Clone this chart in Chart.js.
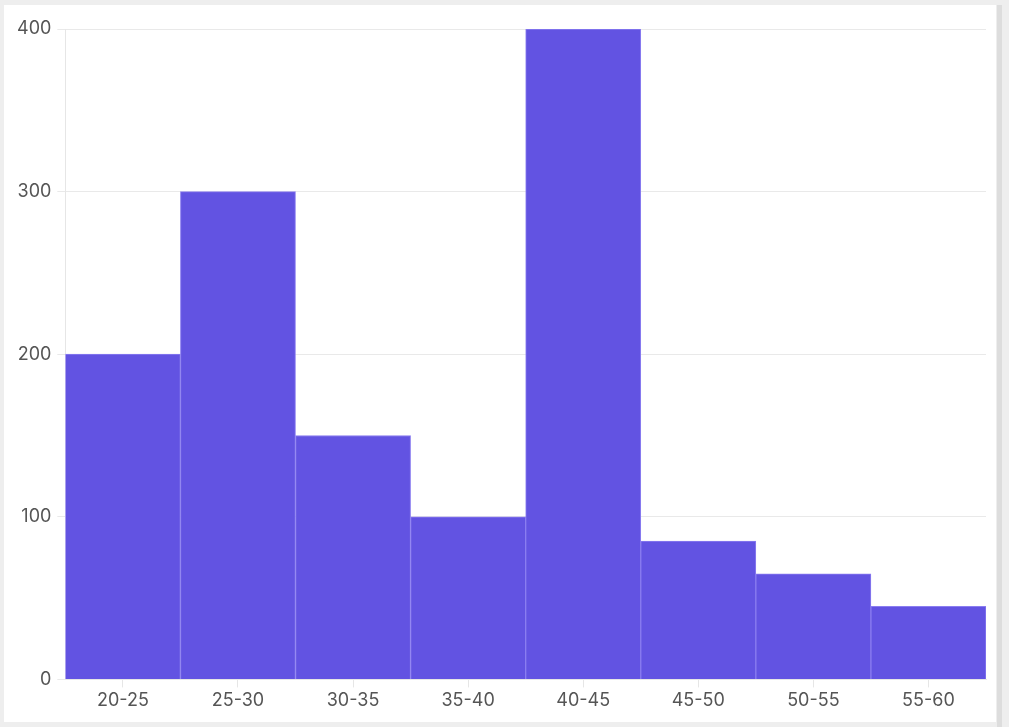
<!DOCTYPE html>
<html>
<head>
<meta charset="utf-8">
<script src="https://cdn.jsdelivr.net/npm/chart.js@4"></script>
<style>
  html, body { margin: 0; padding: 0; background: #eeeeee; width: 1009px; height: 727px; overflow: hidden; }
  #card { position: absolute; left: 4px; top: 5px; width: 992px; height: 717px; background: #fff; }
  #bar { position: absolute; left: 997px; top: 5px; width: 5px; height: 722px; background: #dddddd; }
</style>
</head>
<body>
<div id="card"><canvas id="histChart"></canvas></div>
<div id="bar"></div>
<script>
// Age bins and counts
const bins = ['20-25', '25-30', '30-35', '35-40', '40-45', '45-50', '50-55', '55-60'];
const counts = [200, 300, 150, 100, 400, 85, 65, 45];
const yTicks = [0, 100, 200, 300, 400];

const ctx = document.getElementById('histChart').getContext('2d');
new Chart(ctx, {
    type: 'bar',
    data: {
        labels: bins,
        datasets: [{
            data: counts,
            backgroundColor: '#6253e2',
            borderColor: '#8a7df0',
            borderWidth: 1,
            barPercentage: 1,
            categoryPercentage: 1
        }]
    },
    options: {
        responsive: true,
        maintainAspectRatio: false,
        animation: false,
        layout: { padding: { left: 7, right: 10, top: 24, bottom: 9 } },
        plugins: { legend: { display: false }, tooltip: { enabled: false } },
        scales: {
            x: {
                grid: { offset: false, drawOnChartArea: false, color: '#e6e6e6', tickLength: 8 },
                border: { color: '#e6e6e6' },
                ticks: { color: '#555', font: { family: 'Inter', size: 18 }, padding: 2 }
            },
            y: {
                min: 0, max: 400,
                afterBuildTicks: axis => { axis.ticks = yTicks.map(v => ({ value: v })); },
                grid: { color: '#e9e9e9', tickLength: 8 },
                border: { color: '#e6e6e6' },
                ticks: { color: '#555', font: { family: 'Inter', size: 18 }, padding: 6 }
            }
        }
    }
});
</script>
</body>
</html>
